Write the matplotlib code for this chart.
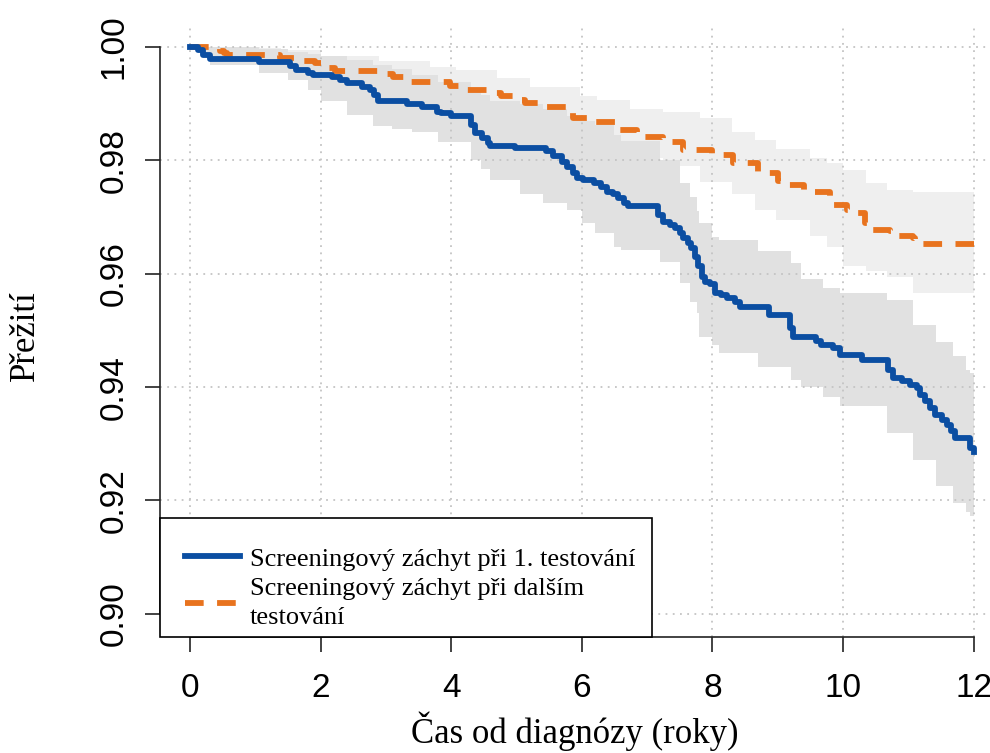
import matplotlib.pyplot as plt
from matplotlib.patches import Rectangle

# survival curves (time in years, survival)
t_first = [0.00, 0.13, 0.20, 0.31, 1.05, 1.53, 1.63, 1.81, 1.89, 2.17, 2.30, 2.40, 2.63, 2.76,
           2.82, 2.88, 3.32, 3.55, 3.78, 3.85, 4.00, 4.31, 4.36, 4.47, 4.57, 4.60, 4.98, 5.46,
           5.56, 5.69, 5.77, 5.87, 5.92, 6.02, 6.18, 6.30, 6.38, 6.48, 6.56, 6.64, 6.71, 7.17,
           7.25, 7.35, 7.43, 7.50, 7.55, 7.63, 7.68, 7.73, 7.78, 7.84, 7.89, 7.96, 8.04, 8.14,
           8.22, 8.35, 8.42, 8.86, 9.19, 9.24, 9.58, 9.67, 9.85, 9.95, 10.29, 10.69, 10.77,
           10.90, 11.03, 11.13, 11.18, 11.26, 11.33, 11.41, 11.51, 11.59, 11.66, 11.72, 11.94,
           12.00]
s_first = [1.0000, 0.9995, 0.9986, 0.9979, 0.9974, 0.9966, 0.9960, 0.9954, 0.9951, 0.9948,
           0.9942, 0.9936, 0.9930, 0.9925, 0.9915, 0.9905, 0.9900, 0.9894, 0.9886, 0.9884,
           0.9878, 0.9863, 0.9849, 0.9839, 0.9830, 0.9826, 0.9822, 0.9816, 0.9807, 0.9798,
           0.9789, 0.9778, 0.9769, 0.9766, 0.9760, 0.9754, 0.9745, 0.9740, 0.9734, 0.9725,
           0.9719, 0.9704, 0.9692, 0.9686, 0.9681, 0.9672, 0.9663, 0.9654, 0.9645, 0.9630,
           0.9613, 0.9595, 0.9586, 0.9582, 0.9566, 0.9563, 0.9557, 0.9551, 0.9542, 0.9528,
           0.9505, 0.9489, 0.9481, 0.9475, 0.9469, 0.9457, 0.9448, 0.9431, 0.9416, 0.9410,
           0.9404, 0.9398, 0.9386, 0.9375, 0.9363, 0.9351, 0.9342, 0.9333, 0.9322, 0.9310,
           0.9292, 0.9286]

t_next = [0.00, 0.46, 0.52, 0.56, 1.38, 1.70, 1.91, 2.09, 2.22, 2.96, 3.11, 3.37, 3.98, 4.17,
          4.59, 4.77, 4.95, 5.13, 5.33, 5.77, 5.87, 6.08, 6.51, 6.58, 6.84, 6.94, 7.25, 7.55,
          8.00, 8.32, 8.70, 9.01, 9.10, 9.40, 9.80, 9.85, 10.06, 10.18, 10.34, 10.44, 10.72,
          10.82, 11.08, 11.10, 12.00]
s_next = [1.0000, 0.9994, 0.9990, 0.9986, 0.9981, 0.9975, 0.9972, 0.9963, 0.9957, 0.9952,
          0.9948, 0.9939, 0.9932, 0.9925, 0.9919, 0.9913, 0.9907, 0.9902, 0.9894, 0.9886,
          0.9875, 0.9867, 0.9860, 0.9853, 0.9848, 0.9842, 0.9833, 0.9818, 0.9809, 0.9796,
          0.9778, 0.9763, 0.9757, 0.9745, 0.9736, 0.9722, 0.9713, 0.9707, 0.9689, 0.9678,
          0.9675, 0.9666, 0.9663, 0.9653, 0.9653]

# confidence bands
band_first_t = [0.00, 0.15, 0.30, 1.05, 1.50, 1.80, 2.00, 2.40, 2.80, 3.10, 3.40, 3.80, 4.30,
                4.45, 4.60, 5.05, 5.40, 5.77, 6.00, 6.20, 6.50, 6.60, 7.20, 7.50, 7.66, 7.76,
                7.80, 8.00, 8.10, 8.70, 9.20, 9.35, 9.70, 9.95, 10.67, 11.07, 11.43, 11.69,
                11.89, 11.95, 12.00]
band_first_lo = [1.0000, 0.9985, 0.9968, 0.9954, 0.9942, 0.9925, 0.9905, 0.9880, 0.9860,
                 0.9856, 0.9850, 0.9833, 0.9801, 0.9785, 0.9766, 0.9740, 0.9725, 0.9713,
                 0.9690, 0.9672, 0.9648, 0.9642, 0.9620, 0.9584, 0.9550, 0.9530, 0.9489,
                 0.9475, 0.9460, 0.9436, 0.9413, 0.9400, 0.9383, 0.9366, 0.9319, 0.9272,
                 0.9225, 0.9195, 0.9180, 0.9172, 0.9165]
band_first_hi = [1.0000, 1.0000, 1.0000, 0.9996, 0.9992, 0.9988, 0.9985, 0.9978, 0.9968,
                 0.9962, 0.9950, 0.9938, 0.9925, 0.9915, 0.9905, 0.9900, 0.9890, 0.9878,
                 0.9870, 0.9862, 0.9845, 0.9835, 0.9800, 0.9760, 0.9736, 0.9710, 0.9690,
                 0.9665, 0.9660, 0.9640, 0.9619, 0.9590, 0.9575, 0.9566, 0.9554, 0.9510,
                 0.9480, 0.9455, 0.9431, 0.9425, 0.9420]

band_next_t = [0.00, 0.50, 1.07, 1.40, 2.00, 2.90, 3.68, 4.08, 4.70, 5.20, 5.97, 6.23, 6.74,
               7.25, 7.81, 8.30, 8.65, 8.98, 9.50, 9.75, 10.00, 10.36, 10.67, 11.07, 12.00]
band_next_lo = [1.0000, 0.9990, 0.9972, 0.9960, 0.9942, 0.9930, 0.9919, 0.9880, 0.9857,
                0.9836, 0.9825, 0.9819, 0.9805, 0.9790, 0.9762, 0.9740, 0.9713, 0.9695,
                0.9666, 0.9647, 0.9614, 0.9605, 0.9595, 0.9566, 0.9566]
band_next_hi = [1.0000, 1.0000, 0.9998, 0.9995, 0.9985, 0.9975, 0.9965, 0.9960, 0.9945,
                0.9930, 0.9913, 0.9907, 0.9890, 0.9885, 0.9875, 0.9850, 0.9836, 0.9820,
                0.9805, 0.9795, 0.9784, 0.9760, 0.9748, 0.9745, 0.9745]

labels = ['Screeningový záchyt při 1. testování', 'Screeningový záchyt při dalším\ntestování']
xticks = [0, 2, 4, 6, 8, 10, 12]
yticks = [0.90, 0.92, 0.94, 0.96, 0.98, 1.00]

blue = '#0b4ea2'
orange = '#e8731e'
serif = ['Liberation Serif', 'DejaVu Serif']

fig = plt.figure(figsize=(9.9, 7.53), dpi=100)
ax = fig.add_axes([160 / 990, 116 / 753, 830 / 990, 612 / 753])

ax.fill_between(band_next_t, band_next_lo, band_next_hi, step='post', color='#efefef', lw=0, zorder=0.8)
ax.fill_between(band_first_t, band_first_lo, band_first_hi, step='post', color='#e1e1e1', lw=0, zorder=0.9)

l1, = ax.plot(t_first, s_first, drawstyle='steps-post', color=blue, lw=4.2, zorder=2.2)
l2, = ax.plot(t_next, s_next, drawstyle='steps-post', color=orange, lw=4.2,
              linestyle=(0, (3.2, 2.3)), dash_capstyle='butt', zorder=2.1)

ax.set_xlim(-0.459, 12.252)
ax.set_ylim(0.8959, 1.0039)
ax.set_xticks(xticks)
ax.set_yticks(yticks)
ax.set_xticklabels([str(x) for x in xticks])
ax.set_yticklabels(['%.2f' % y for y in yticks])
ax.grid(True, color='#c4c4c4', linestyle=(0, (1, 3)), linewidth=1.3)

for side in ['top', 'right']:
    ax.spines[side].set_visible(False)
ax.spines['left'].set_bounds(0.90, 1.00)
ax.spines['bottom'].set_bounds(0, 12)
for side in ['left', 'bottom']:
    ax.spines[side].set_linewidth(1.2)
    ax.spines[side].set_color('#222222')

ax.tick_params(length=11, width=1.2, color='#222222', labelsize=24)
ax.tick_params(axis='x', pad=15)
ax.tick_params(axis='y', pad=11, labelrotation=90)
for lab in ax.get_xticklabels() + ax.get_yticklabels():
    lab.set_family(['Liberation Sans', 'DejaVu Sans'])
for lab in ax.get_yticklabels():
    lab.set_va('center')

ax.set_xlabel('Čas od diagnózy (roky)', family=serif, fontsize=25)
ax.xaxis.set_label_coords(0.5, -0.121)
ax.set_ylabel('Přežití', family=serif, fontsize=25)
ax.yaxis.set_label_coords(-0.142, 0.493)

# legend box in R style, flush with the axes corner
ax.add_patch(Rectangle((0, 0), 0.5928, 0.1944, transform=ax.transAxes, fc='white',
                       ec='black', lw=1.2, zorder=3, clip_on=False))
leg = ax.legend([l1, l2], labels, loc='upper left', bbox_to_anchor=(0.030, 0.147), frameon=False,
                prop={'family': serif, 'size': 19}, handlelength=2.1, handletextpad=0.35,
                labelspacing=0.29, borderaxespad=0, borderpad=0)
leg.set_zorder(5)
for txt in leg.get_texts():
    txt.set_linespacing(1.38)

fig.savefig('out.png', dpi=100)
